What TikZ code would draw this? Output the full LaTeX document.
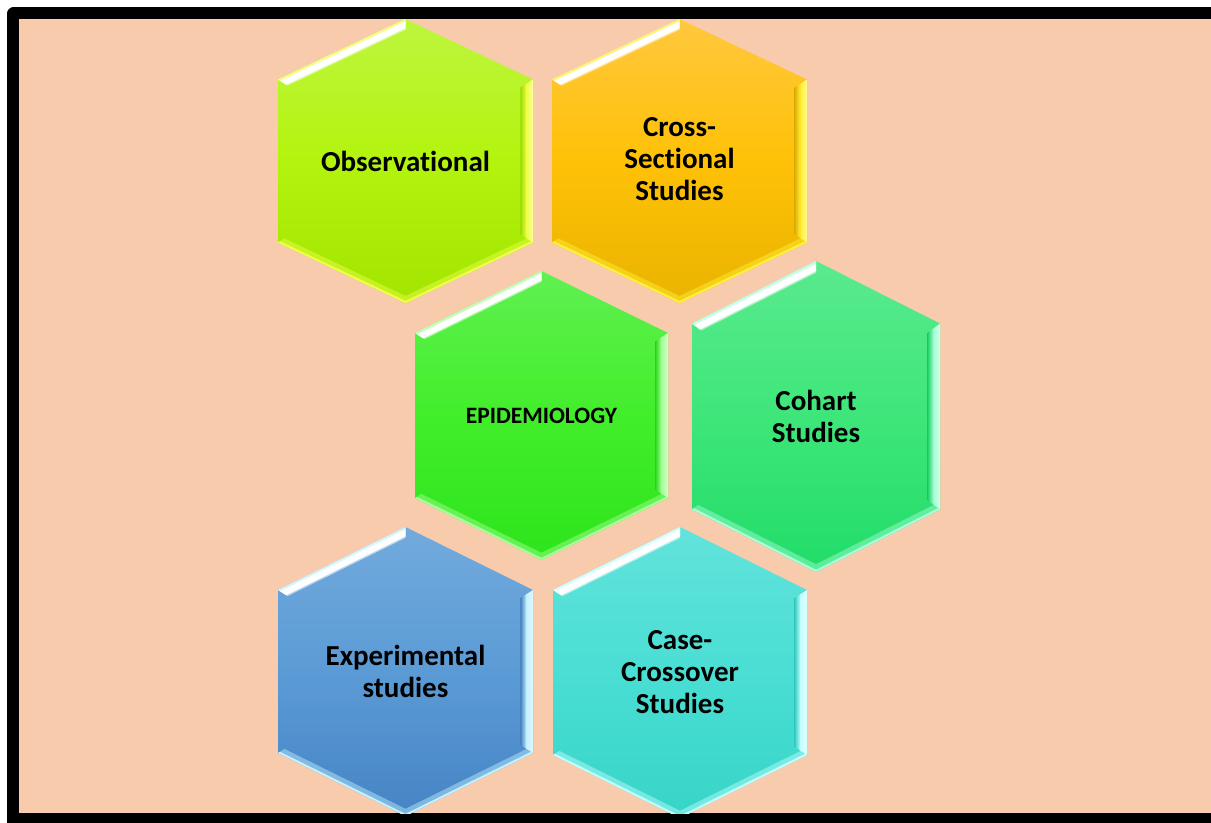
\documentclass[tikz,border=0pt]{standalone}
\usepackage{fontspec}
\setmainfont{Carlito}[Ligatures=NoCommon]
\usetikzlibrary{calc}

\definecolor{peach}{HTML}{F8CBAD}
% face colours (top, middle, bottom) and edge highlight of each cell
\definecolor{obsA}{HTML}{BEF53E}\definecolor{obsB}{HTML}{B3F40E}\definecolor{obsC}{HTML}{A3E400}\definecolor{obsH}{HTML}{F0FF4A}
\definecolor{crsA}{HTML}{FFC83E}\definecolor{crsB}{HTML}{FFC107}\definecolor{crsC}{HTML}{E9B400}\definecolor{crsH}{HTML}{FFF23A}
\definecolor{epiA}{HTML}{60F052}\definecolor{epiB}{HTML}{42EE2A}\definecolor{epiC}{HTML}{2DE41B}\definecolor{epiH}{HTML}{A8FF9A}
\definecolor{cohA}{HTML}{5AEA8E}\definecolor{cohB}{HTML}{3EE67A}\definecolor{cohC}{HTML}{21DC69}\definecolor{cohH}{HTML}{A8FFD8}
\definecolor{expA}{HTML}{72AADD}\definecolor{expB}{HTML}{5B9BD5}\definecolor{expC}{HTML}{4684C5}\definecolor{expH}{HTML}{C4F2FF}
\definecolor{casA}{HTML}{62E3DB}\definecolor{casB}{HTML}{4ADED4}\definecolor{casC}{HTML}{36D5C7}\definecolor{casH}{HTML}{C4FFFF}

\tikzset{
  cell text/.style={font=\bfseries\fontsize{21.75}{24}\selectfont, align=center, text=black, inner sep=0pt},
  core text/.style={font=\bfseries\fontsize{17.6}{20}\selectfont, text=black, inner sep=0pt},
}

% corners of a pointy-topped hexagon: name, cx, cy, half width, half height, shoulder offset
\newcommand{\hexcorners}[6]{%
  \coordinate (#1-c)  at ({#2},{#3});
  \coordinate (#1-T)  at ({#2},{#3-#5});
  \coordinate (#1-TR) at ({#2+#4},{#3-#6});
  \coordinate (#1-BR) at ({#2+#4},{#3+#6});
  \coordinate (#1-B)  at ({#2},{#3+#5});
  \coordinate (#1-BL) at ({#2-#4},{#3+#6});
  \coordinate (#1-TL) at ({#2-#4},{#3-#6});
}

% bevelled hexagon body: name, top, middle, bottom colour, highlight colour
\newcommand{\hexbody}[5]{%
  \foreach \v in {T,TR,BR,B,BL,TL}{
    \coordinate (#1-\v-o) at ($(#1-c)!0.985!(#1-\v)$);
    \coordinate (#1-\v-m) at ($(#1-c)!0.950!(#1-\v)$);
    \coordinate (#1-\v-n) at ($(#1-c)!0.936!(#1-\v)$);
    \coordinate (#1-\v-i) at ($(#1-c)!0.925!(#1-\v)$);
    \coordinate (#1-\v-d) at ($(#1-c)!0.900!(#1-\v)$);
  }
  % face
  \shade[top color=#2, bottom color=#4, middle color=#3]
    (#1-T) -- (#1-TR) -- (#1-BR) -- (#1-B) -- (#1-BL) -- (#1-TL) -- cycle;
  % upper-left bevel: white gloss
  \fill[white, opacity=.55] (#1-TL) -- (#1-T) -- (#1-T-i) -- (#1-TL-i) -- cycle;
  \fill[white] (#1-TL-o) -- (#1-T-o) -- (#1-T-n) -- (#1-TL-n) -- cycle;
  \fill[#5!70!white] (#1-TL) -- (#1-T) -- (#1-T-o) -- (#1-TL-o) -- cycle;
  % right bevel: soft shadow rising to a bright rim
  \shade[left color=#4!95!black, right color=#5]
    (#1-TR-m) -- (#1-BR-m) -- (#1-BR-d) -- (#1-TR-d) -- cycle;
  \shade[left color=#5, right color=#5!55!white]
    (#1-TR) -- (#1-BR) -- (#1-BR-m) -- (#1-TR-m) -- cycle;
  % lower bevels
  \fill[#5, opacity=.45] (#1-BL) -- (#1-B) -- (#1-BR) -- (#1-BR-m) -- (#1-B-m) -- (#1-BL-m) -- cycle;
  \fill[#5] (#1-BL) -- (#1-B) -- (#1-BR) -- (#1-BR-o) -- (#1-B-o) -- (#1-BL-o) -- cycle;
}

\begin{document}
\begin{tikzpicture}[x=0.75pt, y=-0.75pt]
  \useasboundingbox (0,0) rectangle (1211,822);
  \clip (0,0) rectangle (1211,822);

  % frame
  \fill[black, rounded corners=5] (7,7) rectangle (1240,850);
  \fill[peach] (19,19) rectangle (1211,813);

  \begin{scope}
    \clip (19,19) rectangle (1211,813);

    \hexcorners{obs}{405.5}{161}{127.5}{142}{81.5}
    \hexcorners{crs}{679.5}{161}{127.5}{142}{81.5}
    \hexcorners{epi}{541.5}{415.5}{126.5}{144.5}{82.5}
    \hexcorners{coh}{816}{416.5}{124}{155.5}{93}
    \hexcorners{exp}{405.5}{671.5}{127.5}{144.5}{81.5}
    \hexcorners{cas}{680}{672.5}{127}{145.5}{82.5}

    \hexbody{obs}{obsA}{obsB}{obsC}{obsH}
    \hexbody{crs}{crsA}{crsB}{crsC}{crsH}
    \hexbody{epi}{epiA}{epiB}{epiC}{epiH}
    \hexbody{coh}{cohA}{cohB}{cohC}{cohH}
    \hexbody{exp}{expA}{expB}{expC}{expH}
    \hexbody{cas}{casA}{casB}{casC}{casH}
  \end{scope}

  % labels
  \node[cell text] (obs-label) at (obs-c) {Observational};
  \node[cell text] (crs-label) at ($(crs-c)+(0,-2)$) {Cross-\\Sectional\\Studies};
  \node[core text] (epi-label) at (epi-c) {EPIDEMIOLOGY};
  \node[cell text] (coh-label) at (coh-c) {Cohart\\Studies};
  \node[cell text] (exp-label) at (exp-c) {Experimental\\studies};
  \node[cell text] (cas-label) at (cas-c) {Case-\\Crossover\\Studies};
\end{tikzpicture}
\end{document}
